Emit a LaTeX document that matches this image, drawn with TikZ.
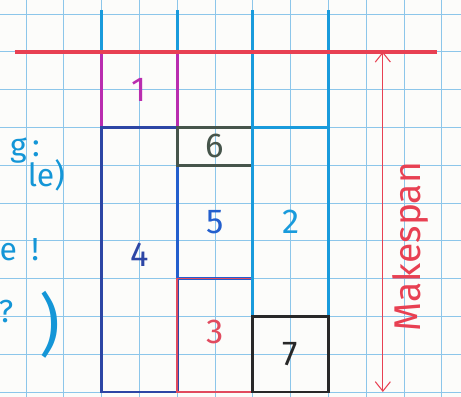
\documentclass[tikz,border=0pt]{standalone}
\usepackage{fontspec}
\setmainfont{Fira Sans}
\usetikzlibrary{arrows.meta}
\definecolor{paper}{RGB}{252,252,250}
\definecolor{gridline}{RGB}{140,198,234}
\definecolor{marker}{RGB}{232,64,82}
\definecolor{plum}{RGB}{185,45,175}
\definecolor{navy}{RGB}{45,70,165}
\definecolor{royal}{RGB}{35,95,205}
\definecolor{sky}{RGB}{25,155,220}
\definecolor{slate}{RGB}{70,85,75}
\definecolor{pencil}{RGB}{40,40,40}
\definecolor{rose}{RGB}{225,75,95}
\definecolor{cyanink}{RGB}{20,150,215}
\tikzset{
  >={Straight Barb[length=2.5mm,width=4mm]},
  job/.style={draw=#1,text=#1,line width=2.2pt,minimum width=2cm,
    inner sep=0pt,outer sep=0pt,font=\fontsize{26}{28}\selectfont},
  job/.default=navy,
  lane/.style={draw=sky,line width=2pt},
  tag/.style={text=cyanink,font=\fontsize{24}{26}\selectfont,inner sep=0pt},
  span/.style={<->,draw=marker,line width=0.8pt},
}
\begin{document}
\begin{tikzpicture}
  \useasboundingbox (-0.688,-0.132) rectangle (11.508,10.37);
  \fill[paper] (-0.688,-0.132) rectangle (11.508,10.37);
  \clip (-0.688,-0.132) rectangle (11.508,10.37);
  % squared paper
  \draw[gridline,line width=0.6pt] (-1,-1) grid (12,11);
  % three machines
  \foreach \x in {2,4,6,8} \draw[lane] (\x,10.1) -- (\x,7);
  % jobs
  \node[job=plum,minimum height=2cm] (j1) at (3,8) {1};
  \node[job=navy,minimum height=7cm] (j4) at (3,3.5) {\raisebox{8pt}{4}};
  \node[job=royal,minimum height=3cm] (j5) at (5,4.5) {5};
  \node[job=rose,line width=1.2pt,minimum height=3cm] (j3) at (5,1.5) {\raisebox{6pt}{3}};
  \node[job=slate,minimum height=1cm] (j6) at (5,6.5) {6};
  \node[job=sky,minimum height=5cm] (j2) at (7,4.5) {2};
  \node[job=pencil,minimum height=2cm] (j7) at (7,1) {7};
  % makespan
  \coordinate (cmax left) at (-0.3,9);
  \coordinate (cmax right) at (10.87,9);
  \draw[marker,line width=3pt] (cmax left) -- (cmax right);
  \coordinate (ms top) at (9.44,9);
  \coordinate (ms bot) at (9.44,0);
  \draw[span] (ms top) -- (ms bot);
  \node[rotate=90,text=marker,font=\fontsize{28}{30}\selectfont] (ms) at (10.16,3.84) {Makespan};
  % notes, cut off at the margin
  \node[tag,anchor=east] (n1) at (0.37,6.4) {g\,:};
  \node[tag,anchor=east] (n2) at (1.03,5.74) {le)};
  \node[tag,anchor=east] (n3) at (0.35,3.76) {e\;\,!};
  \node[tag] (n4) at (-0.53,2.12) {?};
  \node[tag,font=\fontsize{30}{32}\selectfont,xscale=1.6,yscale=1.7,transform shape] (n5) at (0.63,1.77) {)};
\end{tikzpicture}
\end{document}
